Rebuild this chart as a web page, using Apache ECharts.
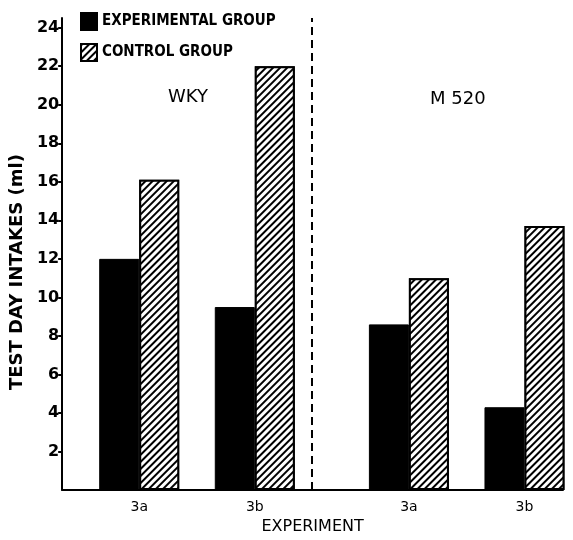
<!DOCTYPE html>
<html>
<head>
<meta charset="utf-8">
<script src="https://cdn.jsdelivr.net/npm/echarts@6/dist/echarts.min.js"></script>
<style>html,body{margin:0;padding:0;background:#fff}#c{width:573px;height:540px}</style>
</head>
<body>
<div id="c"></div>
<script>
// Experiment slots along x (blank slots are spacing; 3a/3b for WKY then M520)
var categories = ['', '', '3a', '', '', '3b', '', '', '', '3a', '', '', '3b', ''];
var experimentalGroup = [null, null, 12.0, null, null, 9.5, null, null, null, 8.6, null, null, 4.3, null];
var controlGroup = [null, null, 16.1, null, null, 22.0, null, null, null, 11.0, null, null, 13.7, null];
var dividerSlot = 7;
var strainLabels = ['WKY', 'M 520'];
var yTicks = [2, 4, 6, 8, 10, 12, 14, 16, 18, 20, 22, 24];

var chart = echarts.init(document.getElementById('c'), null, {renderer: 'canvas'});
var font = '"DejaVu Sans", "Liberation Sans", sans-serif';
var narrow = '"Liberation Sans Narrow", "DejaVu Sans Condensed", "Liberation Sans", sans-serif';
chart.setOption({
  animation: false,
  backgroundColor: '#fff',
  grid: {left: 62, right: 10, top: 18, bottom: 44, containLabel: false},
  legend: {
    orient: 'vertical', left: 75, top: 7, itemWidth: 16, itemHeight: 17, itemGap: 12,
    icon: 'rect',
    textStyle: {fontFamily: narrow, fontWeight: 'bold', fontSize: 15, color: '#000'},
    data: ['EXPERIMENTAL GROUP', 'CONTROL GROUP']
  },
  xAxis: {
    type: 'category', data: categories, boundaryGap: false,
    name: 'EXPERIMENT', nameLocation: 'middle', nameGap: 26,
    nameTextStyle: {fontFamily: font, fontSize: 16, color: '#000'},
    axisLine: {lineStyle: {color: '#000', width: 2}},
    axisTick: {show: false},
    axisLabel: {interval: 0, fontFamily: font, fontSize: 14, color: '#000', margin: 10},
    splitLine: {show: false}
  },
  yAxis: {
    type: 'value', min: 0, max: 24.5, interval: 2,
    name: 'TEST DAY INTAKES (ml)', nameLocation: 'middle', nameGap: 36, nameRotate: 90,
    nameTextStyle: {fontFamily: font, fontSize: 18, fontWeight: 'bold', color: '#000', padding: [0, 36, 0, 0]},
    axisLine: {show: true, lineStyle: {color: '#000', width: 2}},
    axisTick: {show: true, length: 4, lineStyle: {color: '#000', width: 2}},
    axisLabel: {
      fontFamily: font, fontSize: 16, fontWeight: 'bold', color: '#000', margin: 3,
      showMinLabel: false, showMaxLabel: false,
      formatter: function (v) { return yTicks.indexOf(v) >= 0 ? String(v) : ''; }
    },
    splitLine: {show: false}
  },
  series: [
    {
      name: 'EXPERIMENTAL GROUP', type: 'bar', data: experimentalGroup,
      barWidth: 40, barGap: '0%',
      itemStyle: {color: '#000', borderColor: '#000', borderWidth: 1},
      markLine: {
        silent: true, symbol: 'none', label: {show: false},
        lineStyle: {color: '#000', type: [8, 5], width: 2},
        data: [{xAxis: dividerSlot}]
      }
    },
    {
      name: 'CONTROL GROUP', type: 'bar', data: controlGroup,
      barWidth: 40, barGap: '0%',
      itemStyle: {
        color: '#fff', borderColor: '#000', borderWidth: 2,
        decal: {symbol: 'rect', color: '#000', backgroundColor: '#fff',
                dashArrayX: [1, 0], dashArrayY: [2, 3], rotation: -Math.PI / 4, symbolSize: 1}
      }
    }
  ],
  graphic: [
    {type: 'text', left: 168, top: 88, style: {text: strainLabels[0], fontFamily: font, fontSize: 18, fill: '#000'}},
    {type: 'text', left: 430, top: 90, style: {text: strainLabels[1], fontFamily: font, fontSize: 18, fill: '#000'}}
  ]
});
</script>
</body>
</html>
